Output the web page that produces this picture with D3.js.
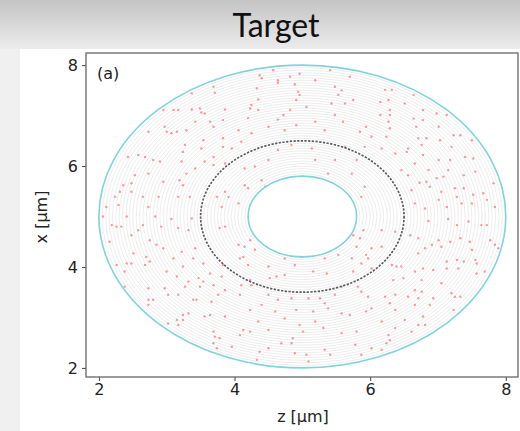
<!DOCTYPE html>
<html>
 <head>
    <style>
        body { margin: 0; width: 520px; height: 431px; overflow: hidden; background: #fff; }
        svg { display: block; }
    </style>
    <script src="https://d3js.org/d3.v7.min.js"></script>
 </head>
 <body>
    <div id="chart"></div>
    <script>
        // ring geometry (um)
        const center = [5, 5];
        const innerR = 0.8, outerR = 3.0, midR = 1.5;
        const ringRadii = [0.85, 0.90, 0.95, 1.00, 1.05, 1.10, 1.15, 1.20, 1.25, 1.30, 1.35, 1.40, 1.45,
            1.50, 1.55, 1.60, 1.65, 1.70, 1.75, 1.80, 1.85, 1.90, 1.95, 2.00, 2.05, 2.10, 2.15, 2.20,
            2.25, 2.30, 2.35, 2.40, 2.45, 2.50, 2.55, 2.60, 2.65, 2.70, 2.75, 2.80, 2.85, 2.90, 2.95];
        const xTicks = [2, 4, 6, 8];
        const yTicks = [2, 4, 6, 8];

        // red points, z values and x values (um)
        const ptZ = [
            3.69,3.71,3.37,3.49,2.95,3.10,3.17,3.37,3.51,3.56,3.64,3.69,3.86,3.83,3.83,3.42,3.29,3.15,3.07,3.00,
            2.73,2.97,3.54,3.27,3.24,3.51,3.69,3.83,3.96,3.86,3.69,2.43,2.58,2.68,2.80,2.90,3.22,3.56,3.42,3.29,
            3.19,2.95,3.24,2.73,2.53,2.48,2.36,2.31,2.48,2.65,2.88,3.17,3.34,2.24,2.11,2.29,2.73,3.74,3.86,3.91,3.81,
            4.57,4.37,4.40,4.64,4.64,4.82,4.96,5.19,5.41,5.70,5.48,5.53,4.89,4.33,4.35,4.94,4.91,4.96,5.58,5.75,
            5.63,5.43,5.06,4.82,4.72,4.64,4.25,4.23,4.35,4.20,4.06,4.10,4.25,4.50,4.74,4.91,5.19,5.33,5.48,5.60,
            5.85,5.94,6.02,5.63,5.92,5.14,4.84,4.64,4.50,4.30,4.15,5.19,5.38,5.73,5.48,5.80,4.40,4.45,4.15,4.20,
            4.06,5.87,5.92,
            6.22,6.32,6.15,6.27,6.64,6.51,6.78,6.29,6.15,6.29,6.98,7.13,6.27,6.64,6.78,6.29,6.68,7.01,6.24,6.71,
            6.83,7.03,7.23,7.33,7.50,7.20,6.17,6.37,6.54,6.56,6.76,6.78,7.01,7.18,7.40,7.52,6.66,6.46,6.56,6.86,
            7.15,7.38,7.55,7.08,6.98,6.83,6.73,6.88,6.61,7.82,7.25,7.38,7.05,7.28,7.52,7.67,7.72,7.01,6.81,6.66,
            7.13,7.35,7.50,7.84,
            2.06,2.41,2.83,3.07,3.37,2.19,2.26,2.33,2.58,2.65,2.92,3.17,3.32,3.78,3.86,2.48,2.75,2.85,2.95,3.22,
            3.42,2.16,2.41,2.48,2.51,2.26,2.68,2.75,2.70,3.10,3.24,3.39,3.54,3.64,3.83,3.00,3.15,3.32,3.47,3.69,
            3.81,2.38,2.73,2.97,3.02,3.17,3.27,3.49,3.54,3.76,3.86,2.73,2.80,2.73,3.39,3.44,3.66,3.24,3.32,3.15,
            3.24,3.56,3.64,3.86,3.02,3.17,3.69,3.71,3.78,3.69,3.74,3.96,2.38,
            5.90,5.75,5.85,5.80,6.02,5.94,4.23,4.15,4.30,4.06,4.08,4.13,4.20,4.50,4.89,4.74,4.99,5.33,5.53,5.73,
            5.87,5.97,6.02,5.75,5.16,5.36,4.62,4.74,4.52,4.23,4.10,4.25,4.50,4.08,4.64,4.84,5.09,5.26,5.33,5.48,
            5.58,5.82,5.87,5.97,6.02,4.23,4.40,4.60,4.91,5.16,5.38,5.58,5.70,5.94,4.35,4.50,4.13,4.08,4.23,4.74,
            4.96,5.19,5.31,5.58,5.80,4.86,4.84,4.69,4.50,4.37,4.33,4.89,5.06,5.09,5.33,5.41,5.78,6.02,5.87,5.01,
            6.17,6.86,7.15,7.28,7.45,7.64,7.72,6.37,6.59,6.71,7.01,6.91,7.18,7.33,7.47,7.77,7.84,7.89,6.17,6.81,
            7.05,7.50,6.71,7.13,7.28,7.38,7.55,7.57,6.32,6.39,6.46,6.78,6.93,7.13,7.30,6.66,7.57,7.69,6.34,6.49,
            6.76,7.05,6.66,6.76,7.20,7.25,7.33,6.22,6.37,6.56,6.71,6.93,6.29,6.66,6.88,7.23,6.37,6.17,6.51,6.78,
            6.71,6.81,6.37,6.27,6.29,6.24,6.17,6.61
        ];
        const ptX = [
            7.57,7.45,7.44,7.14,7.11,7.11,7.11,7.12,7.06,7.04,6.88,6.78,7.12,6.91,6.55,6.88,6.71,6.68,6.65,6.68,
            6.68,6.78,6.51,6.42,6.28,6.35,6.18,6.38,6.35,6.05,6.02,6.18,6.22,6.18,6.12,6.09,6.09,6.09,5.95,5.85,
            5.72,5.69,5.62,5.85,5.82,5.66,5.62,5.49,5.49,5.39,5.39,5.39,5.39,5.39,5.19,5.23,5.19,5.39,5.49,5.39,5.19,
            7.90,7.80,7.74,7.70,7.65,7.77,7.83,7.70,7.90,7.77,7.57,7.41,7.62,7.54,7.32,7.47,7.31,7.41,7.50,7.31,
            7.24,7.24,7.17,7.11,7.01,6.92,7.21,7.14,7.11,6.95,6.71,6.48,6.65,6.78,6.71,6.81,6.88,6.71,7.01,6.88,
            6.68,6.78,6.58,6.38,6.38,6.35,6.42,6.32,6.12,5.99,5.95,6.12,5.85,5.85,6.12,6.12,5.72,5.59,5.62,5.56,
            5.26,5.39,5.59,
            7.51,7.51,7.27,7.31,7.41,7.24,7.11,7.11,7.01,7.01,7.04,7.01,6.88,6.94,6.91,6.75,6.78,6.78,6.58,6.55,
            6.55,6.51,6.61,6.61,6.51,6.38,6.35,6.25,6.28,6.35,6.42,6.22,6.12,6.12,6.18,6.15,6.05,5.92,5.82,5.92,
            5.92,5.82,5.89,5.79,5.76,5.69,5.67,5.59,5.52,5.66,5.56,5.56,5.49,5.39,5.43,5.46,5.33,5.33,5.16,5.26,
            5.19,5.26,5.26,5.19,
            5.00,5.00,5.00,4.95,4.96,4.83,4.80,4.80,4.73,4.83,4.80,4.77,4.73,4.77,4.80,4.63,4.53,4.44,4.37,4.30,
            4.37,4.50,4.07,4.07,4.27,4.04,4.04,4.11,4.20,4.17,4.01,4.17,4.07,3.87,4.04,3.91,3.81,3.71,3.78,3.64,
            3.81,3.91,3.58,3.58,3.45,3.45,3.61,3.61,3.71,3.45,3.54,3.35,3.35,3.25,3.35,3.35,3.31,3.05,3.08,2.95,
            2.95,3.02,3.05,3.02,2.88,2.85,2.72,2.62,2.59,2.49,2.39,2.42,3.61,
            4.73,4.63,4.57,4.40,4.37,4.24,4.53,4.40,4.34,4.44,4.17,4.20,4.04,4.01,4.04,4.17,4.20,4.17,4.24,4.17,
            4.07,4.17,3.97,3.91,3.91,3.87,3.81,3.84,3.78,3.74,3.64,3.64,3.45,3.45,3.35,3.38,3.38,3.38,3.28,3.45,
            3.61,3.61,3.51,3.41,3.18,3.15,3.25,3.12,3.15,3.12,3.18,3.08,3.05,3.12,2.92,2.75,2.75,2.65,2.72,2.98,
            2.85,2.92,2.79,2.69,2.72,2.59,2.49,2.49,2.39,2.32,2.16,2.29,2.26,2.13,2.36,2.26,2.46,2.39,2.26,2.72,
            4.73,4.91,4.95,4.83,4.90,4.83,4.83,4.70,4.63,4.57,4.53,4.44,4.50,4.57,4.50,4.53,4.44,4.37,4.40,4.37,
            4.40,4.34,4.27,4.11,4.14,4.11,4.14,4.07,4.04,4.01,4.01,3.97,3.94,3.97,3.97,3.91,3.87,3.91,3.74,3.78,
            3.74,3.68,3.54,3.51,3.48,3.41,3.41,3.41,3.45,3.41,3.38,3.38,3.28,3.25,3.25,3.15,3.15,2.92,2.95,3.02,
            2.85,2.85,2.79,2.65,2.55,2.49,2.36,2.72
        ];

        const W = 520, H = 431;
        const svg = d3.select("#chart").append("svg").attr("width", W).attr("height", H);

        // header band + page
        const defs = svg.append("defs");
        const grad = defs.append("linearGradient").attr("id", "hdr").attr("x1", 0).attr("y1", 0).attr("x2", 0).attr("y2", 1);
        grad.append("stop").attr("offset", "0%").attr("stop-color", "#c4c4c4");
        grad.append("stop").attr("offset", "100%").attr("stop-color", "#ececec");
        svg.append("rect").attr("x", 0).attr("y", 0).attr("width", W).attr("height", H).attr("fill", "#f0f0f0");
        svg.append("rect").attr("x", 0).attr("y", 0).attr("width", W).attr("height", 49).attr("fill", "url(#hdr)");
        svg.append("rect").attr("x", 20).attr("y", 49).attr("width", W - 20).attr("height", H - 49).attr("fill", "#fff");
        svg.append("text").attr("x", 276).attr("y", 37).attr("text-anchor", "middle")
            .attr("font-family", "Lato, 'Open Sans', sans-serif").attr("font-size", 32).attr("fill", "#111")
            .text("Target");

        // plot
        const x = d3.scaleLinear().domain([1.81, 8.18]).range([86, 518]);
        const y = d3.scaleLinear().domain([1.82, 8.24]).range([377, 53]);
        const cx = x(center[0]), cy = y(center[1]);
        const rx = r => x(center[0] + r) - cx;
        const ry = r => cy - y(center[1] + r);

        const g = svg.append("g");
        g.selectAll("ellipse.ring").data(ringRadii).join("ellipse").attr("class", "ring")
            .attr("cx", cx).attr("cy", cy).attr("rx", rx).attr("ry", ry)
            .attr("fill", "none").attr("stroke", "#dadada").attr("stroke-width", 0.5);

        g.selectAll("circle.pt").data(ptZ).join("circle").attr("class", "pt")
            .attr("cx", d => x(d)).attr("cy", (d, i) => y(ptX[i])).attr("r", 1.2)
            .attr("fill", "#f27a7a").attr("fill-opacity", 0.75);

        g.append("ellipse").attr("cx", cx).attr("cy", cy).attr("rx", rx(midR)).attr("ry", ry(midR))
            .attr("fill", "none").attr("stroke", "#5a5a5a").attr("stroke-width", 1.7)
            .attr("stroke-dasharray", "2.2,1.5");

        [innerR, outerR].forEach(r => {
            g.append("ellipse").attr("cx", cx).attr("cy", cy).attr("rx", rx(r)).attr("ry", ry(r))
                .attr("fill", "none").attr("stroke", "#7fd4d8").attr("stroke-width", 1.6);
        });

        // axes
        const fmt = d3.format("d");
        const xAxis = svg.append("g").attr("transform", "translate(0,377)")
            .call(d3.axisBottom(x).tickValues(xTicks).tickFormat(fmt).tickSize(4).tickPadding(3));
        const yAxis = svg.append("g").attr("transform", "translate(86,0)")
            .call(d3.axisLeft(y).tickValues(yTicks).tickFormat(fmt).tickSize(4).tickPadding(4));
        [xAxis, yAxis].forEach(a => {
            a.select(".domain").remove();
            a.selectAll("line").attr("stroke", "#444");
            a.selectAll("text").attr("font-family", "'DejaVu Sans', sans-serif").attr("font-size", 16).attr("fill", "#222");
        });
        svg.append("rect").attr("x", 86).attr("y", 53).attr("width", 432).attr("height", 324)
            .attr("fill", "none").attr("stroke", "#666").attr("stroke-width", 1.3);

        svg.append("text").attr("x", 303).attr("y", 422).attr("text-anchor", "middle")
            .attr("font-family", "'DejaVu Sans', sans-serif").attr("font-size", 16).attr("fill", "#222")
            .text("z [µm]");
        svg.append("text").attr("transform", "translate(47,217) rotate(-90)").attr("text-anchor", "middle")
            .attr("font-family", "'DejaVu Sans', sans-serif").attr("font-size", 16).attr("fill", "#222")
            .text("x [µm]");
        svg.append("text").attr("x", 97).attr("y", 79)
            .attr("font-family", "'DejaVu Sans', sans-serif").attr("font-size", 16).attr("fill", "#222")
            .text("(a)");
    </script>
 </body>
</html>
